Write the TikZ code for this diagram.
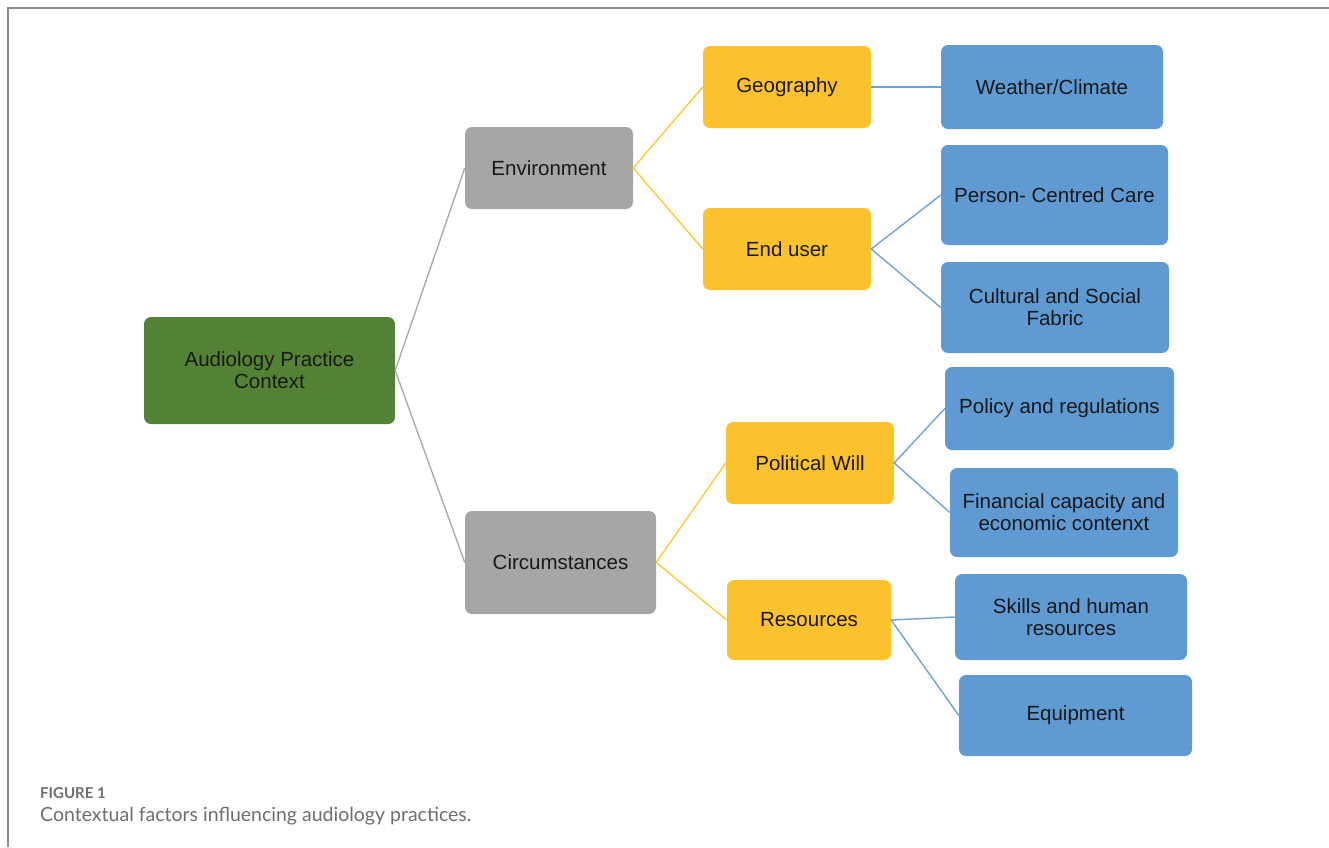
\documentclass[tikz,border=0pt]{standalone}
\usepackage{fontspec}
\setmainfont{Liberation Sans}
\newfontfamily\capfont{Lato}
\definecolor{boxgreen}{HTML}{548235}
\definecolor{boxgray}{HTML}{A6A6A6}
\definecolor{boxyellow}{HTML}{FCC22E}
\definecolor{boxblue}{HTML}{5F9AD3}
\definecolor{lgray}{HTML}{ABABAB}
\definecolor{lyellow}{HTML}{FFC83A}
\definecolor{lblue}{HTML}{6FA3D8}
\definecolor{framegray}{HTML}{8A8A8A}
\definecolor{captext}{HTML}{6E6E6E}
\tikzset{
  box/.style={rounded corners=7pt, inner sep=0pt, align=center,
    font=\fontsize{20.5}{22}\selectfont, text=black!90},
  greenbox/.style={box, fill=boxgreen},
  graybox/.style={box, fill=boxgray},
  yellowbox/.style={box, fill=boxyellow},
  bluebox/.style={box, fill=boxblue},
  link/.style={line width=1.4pt},
  glink/.style={link, draw=lgray},
  ylink/.style={link, draw=lyellow},
  blink/.style={link, draw=lblue},
}
\begin{document}
\begin{tikzpicture}[x=1pt, y=-1pt]
\useasboundingbox (0,0) rectangle (1329,847);
% frame along the top and left edges
\draw[framegray, line width=2pt] (8,847) -- (8,8) -- (1329,8);

% root
\node[greenbox, minimum width=251, minimum height=107] (apc) at (269.5,370.5) {Audiology Practice\\Context};

% second level
\node[graybox, minimum width=168, minimum height=82] (env) at (549,168) {Environment};
\node[graybox, minimum width=191, minimum height=103] (circ) at (560.5,562.5) {Circumstances};

% third level
\node[yellowbox, minimum width=168, minimum height=82] (geo) at (787,87) {Geography};
\node[yellowbox, minimum width=168, minimum height=82] (end) at (787,249) {End user};
\node[yellowbox, minimum width=168, minimum height=82] (pol) at (810,463) {Political Will};
\node[yellowbox, minimum width=164, minimum height=80] (res) at (809,620) {Resources};

% leaves
\node[bluebox, minimum width=222, minimum height=84] (wc) at (1052,87) {Weather/Climate};
\node[bluebox, minimum width=227, minimum height=100] (pcc) at (1054.5,195) {Person- Centred Care};
\node[bluebox, minimum width=228, minimum height=91] (csf) at (1055,307.5) {Cultural and Social\\Fabric};
\node[bluebox, minimum width=229, minimum height=83] (por) at (1059.5,408.5) {Policy and regulations};
\node[bluebox, minimum width=228, minimum height=89] (fin) at (1064,512.5) {Financial capacity and\\economic contenxt};
\node[bluebox, minimum width=232, minimum height=86] (skl) at (1071,617) {Skills and human\\resources};
\node[bluebox, minimum width=233, minimum height=81] (eqp) at (1075.5,715.5) {Equipment};

% connectors
\draw[glink] (env.west) -- (apc.east) -- (circ.west);
\draw[ylink] (geo.west) -- (env.east) -- (end.west);
\draw[ylink] (pol.west) -- (circ.east) -- (res.west);
\draw[blink] (geo.east) -- (wc.west);
\draw[blink] (pcc.west) -- (end.east) -- (csf.west);
\draw[blink] (por.west) -- (pol.east) -- (fin.west);
\draw[blink] (skl.west) -- (res.east) -- (eqp.west);

% caption
\node[anchor=west, inner sep=0pt, text=captext, font=\capfont\bfseries\fontsize{15}{17}\selectfont] (fig) at (40,793) {FIGURE 1};
\node[anchor=west, inner sep=0pt, text=captext, font=\capfont\fontsize{19.5}{22}\selectfont] (cap) at (40,816) {Contextual factors influencing audiology practices.};
\end{tikzpicture}
\end{document}
